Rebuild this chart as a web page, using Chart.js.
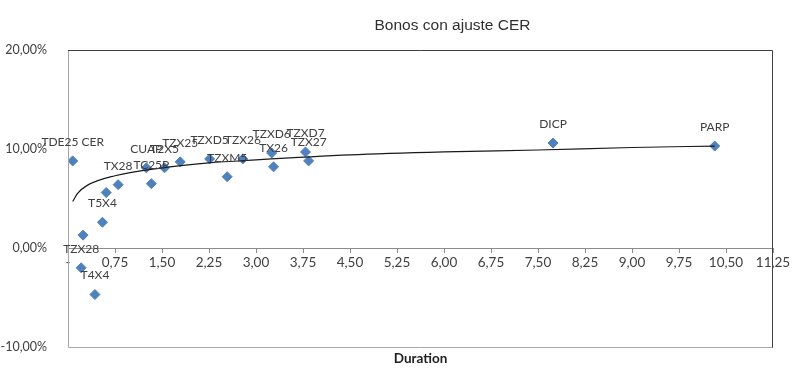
<!DOCTYPE html>
<html>
<head>
<meta charset="utf-8">
<script src="https://cdn.jsdelivr.net/npm/chart.js@4.4.0/dist/chart.umd.min.js"></script>
<style>
    html, body { margin: 0; padding: 0; background: #fff; }
    #wrap { width: 800px; height: 385px; position: relative; }
</style>
</head>
<body>
<div id="wrap"><canvas id="cerChart"></canvas></div>
<script>
// Bonos CER: duration (años) vs TIR (%)
const bondNames = ['TDE25 CER', '', 'TZX28', 'T4X4', 'T5X4', '', 'TX28', 'CUAP', 'TC25P', 'T2X5',
    'TZX25', 'TZXD5', 'TZXM5', 'TZX26', 'TZXD6', 'TX26', 'TZXD7', 'TZX27', 'DICP', 'PARP'];
const durations = [0.075, 0.24, 0.21, 0.43, 0.55, 0.61, 0.80, 1.25, 1.33, 1.54,
    1.79, 2.26, 2.54, 2.79, 3.25, 3.28, 3.79, 3.84, 7.74, 10.32];
const yields = [8.8, 1.3, -2.0, -4.7, 2.6, 5.6, 6.4, 8.1, 6.5, 8.1,
    8.7, 9.0, 7.2, 9.0, 9.6, 8.2, 9.7, 8.8, 10.6, 10.3];

// trend line (log)
const trendX = [0.075, 0.15, 0.3, 0.75, 1.5, 2.25, 3, 4.5, 6, 7.5, 9, 10.32];
const trendY = [4.7, 5.5, 6.3, 7.3, 8.1, 8.6, 8.9, 9.4, 9.7, 9.9, 10.15, 10.3];

const fmt = (v) => v.toFixed(2).replace('.', ',');

const extras = {
    id: 'extras',
    afterDatasetsDraw(chart) {
        const { ctx, chartArea: a } = chart;
        ctx.save();
        // plot border
        ctx.lineWidth = 1;
        ctx.strokeStyle = '#a6a6a6';
        ctx.beginPath();
        ctx.moveTo(a.left + 0.5, a.top);
        ctx.lineTo(a.left + 0.5, a.bottom + 0.5);
        ctx.lineTo(a.right, a.bottom + 0.5);
        ctx.stroke();
        ctx.strokeStyle = '#404040';
        ctx.beginPath();
        ctx.moveTo(a.left, a.top + 0.5);
        ctx.lineTo(a.right - 0.5, a.top + 0.5);
        ctx.lineTo(a.right - 0.5, a.bottom + 0.5);
        ctx.stroke();

        // point labels
        const meta = chart.getDatasetMeta(1);
        ctx.font = '12px Lato, "Liberation Sans", sans-serif';
        ctx.fillStyle = '#404040';
        ctx.textAlign = 'center';
        ctx.textBaseline = 'middle';
        meta.data.forEach((pt, i) => {
            if (bondNames[i]) ctx.fillText(bondNames[i], pt.x, pt.y - 19);
        });

        // titles
        ctx.fillStyle = '#303030';
        ctx.font = '15.5px "Liberation Sans", Arial, sans-serif';
        ctx.fillText('Bonos con ajuste CER', a.left + (a.right - a.left) / 2 + 32, 26);
        ctx.font = 'bold 13.5px Lato, "Liberation Sans", sans-serif';
        ctx.fillStyle = '#202020';
        ctx.fillText('Duration', a.left + (a.right - a.left) / 2, 359);
        ctx.restore();
    }
};

const ctx = document.getElementById('cerChart');
new Chart(ctx, {
    type: 'scatter',
    data: {
        datasets: [{
            type: 'line',
            data: trendX.map((x, i) => ({ x: x, y: trendY[i] })),
            borderColor: '#1a1a1a',
            borderWidth: 1.2,
            pointRadius: 0,
            fill: false,
            cubicInterpolationMode: 'monotone'
        }, {
            data: durations.map((x, i) => ({ x: x, y: yields[i] })),
            backgroundColor: '#4f81bd',
            borderColor: '#4f81bd',
            pointStyle: 'rectRot',
            pointRadius: 5,
            pointHoverRadius: 5
        }]
    },
    plugins: [extras],
    options: {
        responsive: true,
        maintainAspectRatio: false,
        animation: false,
        layout: {
            padding: { top: 50, right: 27, bottom: 38, left: 0 }
        },
        plugins: {
            legend: { display: false },
            tooltip: { enabled: false }
        },
        scales: {
            x: {
                type: 'linear',
                position: { y: 0 },
                min: 0,
                max: 11.25,
                border: { color: '#8c8c8c' },
                grid: {
                    drawOnChartArea: false,
                    drawTicks: true,
                    tickLength: 4,
                    color: '#8c8c8c'
                },
                ticks: {
                    stepSize: 0.75,
                    autoSkip: false,
                    maxRotation: 0,
                    padding: 3,
                    color: '#404040',
                    font: { family: 'Lato, "Liberation Sans", sans-serif', size: 13.5 },
                    callback: (v) => (Math.abs(v) < 1e-9 ? '-' : fmt(v))
                }
            },
            y: {
                min: -10,
                max: 20,
                border: { display: false },
                grid: { display: false },
                afterFit: (scale) => { scale.width = 68; },
                ticks: {
                    stepSize: 10,
                    padding: 13,
                    color: '#404040',
                    font: { family: 'Lato, "Liberation Sans", sans-serif', size: 12.5 },
                    callback: (v) => fmt(v) + '%'
                }
            }
        }
    }
});
</script>
</body>
</html>
